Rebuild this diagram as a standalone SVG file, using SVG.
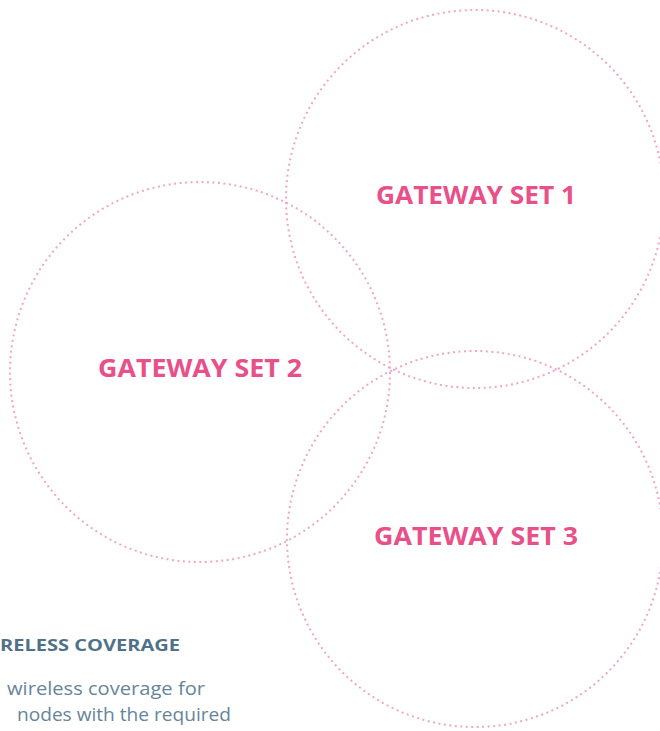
<svg xmlns="http://www.w3.org/2000/svg" width="660" height="731" viewBox="0 0 660 731">
<style>
.ring{fill:none;stroke:#f2a5c4;stroke-width:2;stroke-dasharray:2 3.5;stroke-linecap:butt}
.lbl{font-family:"Open Sans","Liberation Sans",sans-serif;font-weight:700;font-size:25px;fill:#e8508a}
.h{font-family:"Open Sans","Liberation Sans",sans-serif;font-weight:700;font-size:16px;fill:#4f7189}
.b{font-family:"Open Sans","Liberation Sans",sans-serif;font-weight:400;font-size:17.5px;fill:#66859a}
</style>
<rect width="660" height="731" fill="#ffffff"/>
<g id="gateway-set-1">
<circle class="ring" cx="475" cy="199" r="189"/>
<text class="lbl" x="376" y="204" textLength="200" lengthAdjust="spacingAndGlyphs">GATEWAY SET 1</text>
</g>
<g id="gateway-set-2">
<circle class="ring" cx="200" cy="372" r="190"/>
<text class="lbl" x="98" y="377" textLength="204" lengthAdjust="spacingAndGlyphs">GATEWAY SET 2</text>
</g>
<g id="gateway-set-3">
<circle class="ring" cx="475" cy="539" r="188"/>
<text class="lbl" x="374" y="545" textLength="204" lengthAdjust="spacingAndGlyphs">GATEWAY SET 3</text>
</g>
<g id="connectors"/>
<g id="caption">
<text class="h" x="0" y="651" textLength="180" lengthAdjust="spacingAndGlyphs">RELESS COVERAGE</text>
<text class="b" x="7" y="695" textLength="198" lengthAdjust="spacingAndGlyphs">wireless coverage for</text>
<text class="b" x="17" y="721" textLength="214" lengthAdjust="spacingAndGlyphs">nodes with the required</text>
</g>
</svg>
